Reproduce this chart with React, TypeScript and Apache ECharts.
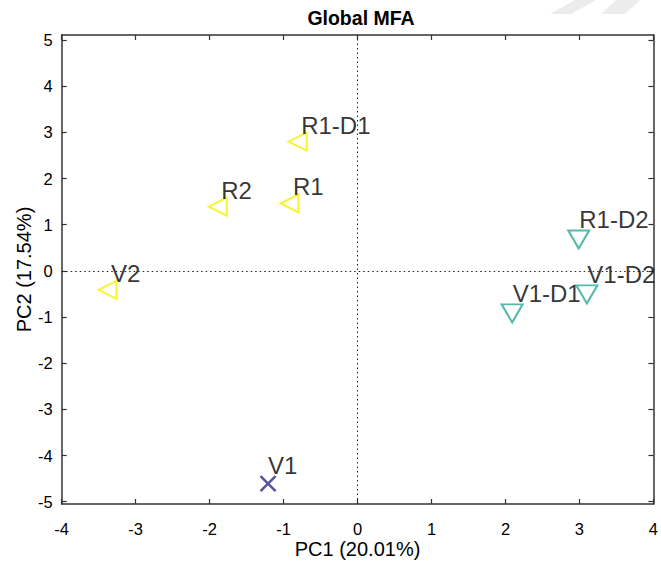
import React, { useEffect, useRef } from "react";
import * as echarts from "echarts";

const xTicks = [-4, -3, -2, -1, 0, 1, 2, 3, 4];
const yTicks = [-5, -4, -3, -2, -1, 0, 1, 2, 3, 4, 5];

const yellowNames = ["R1-D1", "R2", "R1", "V2"];
const yellowX = [-0.81, -1.89, -0.92, -3.38];
const yellowY = [2.8, 1.39, 1.46, -0.41];

const tealNames = ["R1-D2", "V1-D2", "V1-D1"];
const tealX = [2.99, 3.1, 2.09];
const tealY = [0.68, -0.51, -0.92];

const navyNames = ["V1"];
const navyX = [-1.21];
const navyY = [-4.61];

const FONT = "Liberation Sans, Arial, Helvetica, sans-serif";

function pts(names: string[], xs: number[], ys: number[]) {
  return names.map((n, i) => ({ name: n, value: [xs[i], ys[i]] }));
}

export default function App() {
  const ref = useRef<HTMLDivElement>(null);
  useEffect(() => {
    if (!ref.current) return;
    const chart = echarts.init(ref.current, undefined, { renderer: "svg" });
    const axisLine = { show: true, onZero: false, lineStyle: { color: "#333", width: 1.5 } };
    const tick = { show: true, inside: true, length: 5, lineStyle: { color: "#333", width: 1.2 } };
    const labelBase = { color: "#000", fontSize: 16.5, fontFamily: FONT };
    const dataLabel = (off: number[]) => ({
      show: true,
      formatter: "{b}",
      position: "inside",
      align: "left",
      verticalAlign: "bottom",
      offset: off,
      color: "#000",
      textBorderWidth: 0,
      textBorderColor: "transparent",
      fontSize: 24,
      fontFamily: FONT,
    });
    chart.setOption({
      animation: false,
      backgroundColor: "#fff",
      title: {
        text: "Global MFA",
        left: 361,
        top: 8,
        textAlign: "center",
        padding: 0,
        textStyle: { fontSize: 19.5, fontWeight: "bold", color: "#000", fontFamily: FONT },
      },
      graphic: [
        { type: "polygon", shape: { points: [[575, 0], [596, 0], [571, 14], [550, 14]] }, style: { fill: "#ececec" }, z: -1 },
        { type: "polygon", shape: { points: [[616, 0], [640, 0], [625, 14], [601, 14]] }, style: { fill: "#ececec" }, z: -1 },
      ],
      grid: { left: 61.7, right: 6, top: 35, bottom: 59, containLabel: false },
      xAxis: [
        {
          type: "value",
          position: "bottom",
          min: -4,
          max: 4,
          interval: 1,
          axisLine,
          axisTick: tick,
          splitLine: { show: false },
          axisLabel: { ...labelBase, margin: 16, customValues: xTicks },
          name: "PC1 (20.01%)",
          nameLocation: "middle",
          nameGap: 35,
          nameMoveOverlap: false,
          nameTextStyle: { fontSize: 20, color: "#000", fontFamily: FONT },
        },
        {
          type: "value",
          position: "top",
          min: -4,
          max: 4,
          interval: 1,
          axisLine,
          axisTick: tick,
          splitLine: { show: false },
          axisLabel: { show: false },
        },
      ],
      yAxis: [
        {
          type: "value",
          position: "left",
          min: -5.05,
          max: 5.11,
          axisLine,
          axisTick: { ...tick, customValues: yTicks },
          splitLine: { show: false },
          axisLabel: { ...labelBase, margin: 9, customValues: yTicks },
          name: "PC2 (17.54%)",
          nameLocation: "middle",
          nameGap: 28,
          nameMoveOverlap: false,
          nameTextStyle: { fontSize: 20, color: "#000", fontFamily: FONT },
        },
        {
          type: "value",
          position: "right",
          min: -5.05,
          max: 5.11,
          axisLine,
          axisTick: { ...tick, customValues: yTicks },
          splitLine: { show: false },
          axisLabel: { show: false, customValues: yTicks },
        },
      ],
      series: [
        {
          type: "scatter",
          name: "R",
          xAxisIndex: 0,
          yAxisIndex: 0,
          symbol: "triangle",
          symbolSize: [18, 18],
          symbolRotate: 90,
          itemStyle: { color: "rgba(0,0,0,0)", borderColor: "#f5f200", borderWidth: 2 },
          label: dataLabel([3.5, -4.5]),
          data: pts(yellowNames, yellowX, yellowY),
          markLine: {
            silent: true,
            symbol: ["none", "none"],
            label: { show: false },
            lineStyle: { type: [1.5, 3], color: "#222", width: 1 },
            data: [{ xAxis: 0 }, { yAxis: 0 }],
          },
          z: 3,
        },
        {
          type: "scatter",
          name: "D",
          xAxisIndex: 0,
          yAxisIndex: 0,
          symbol: "triangle",
          symbolSize: [21, 18],
          symbolRotate: 180,
          itemStyle: { color: "rgba(0,0,0,0)", borderColor: "#2ba896", borderWidth: 2 },
          label: dataLabel([0.5, -7.5]),
          data: pts(tealNames, tealX, tealY),
          z: 3,
        },
        {
          type: "scatter",
          name: "V",
          xAxisIndex: 0,
          yAxisIndex: 0,
          symbol: "path://M0,0L10,10M10,0L0,10",
          symbolSize: 15,
          itemStyle: { color: "rgba(0,0,0,0)", borderColor: "#2b2a85", borderWidth: 2.5 },
          label: dataLabel([0, -6.5]),
          data: pts(navyNames, navyX, navyY),
          z: 3,
        },
      ],
    });
    return () => chart.dispose();
  }, []);
  return (
    <div
      ref={ref}
      style={{ position: "fixed", left: 0, top: 0, width: 661, height: 564, background: "#fff" }}
    />
  );
}
